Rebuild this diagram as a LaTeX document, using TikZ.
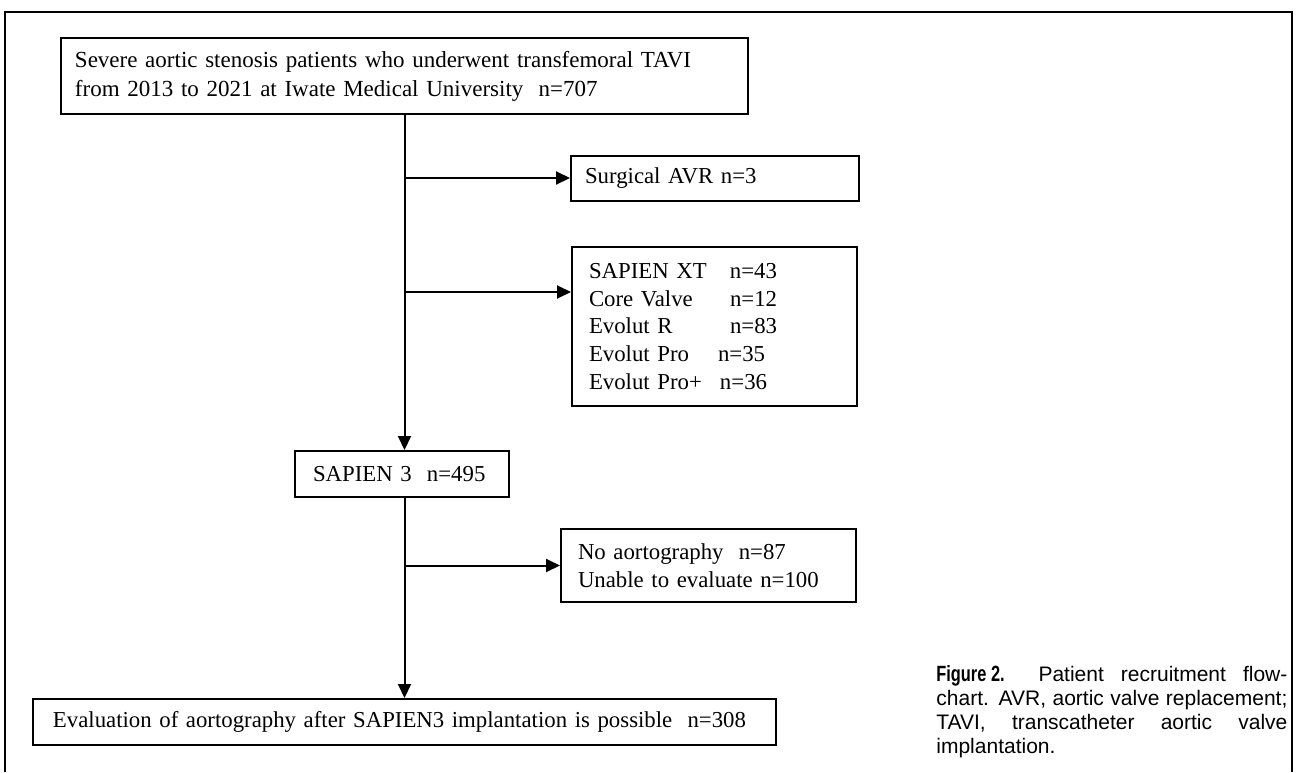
\documentclass[tikz,border=0pt]{standalone}
\usepackage{graphicx}
\usepackage{fontspec}
\setmainfont{Liberation Serif}
\newfontfamily\capfont{Liberation Sans}
\usetikzlibrary{arrows.meta}

\tikzset{
  flowbox/.style={draw, line width=1pt, align=left, inner ysep=0pt,
    font=\fontsize{11.4}{13.85}\selectfont},
  link/.style={line width=1pt, -{Triangle[length=7pt,width=6.5pt]}},
}

\begin{document}
\begin{tikzpicture}[x=0.5pt, y=-0.5pt]
    \useasboundingbox (0,0) rectangle (1297,772);
    % outer frame, open at the bottom
    \draw[line width=1pt] (5,772) -- (5,12) -- (1292,12) -- (1292,772);

    \node[flowbox, font=\fontsize{11.5}{14.5}\selectfont, inner xsep=7pt,
          text width=329.5pt, minimum height=38pt] (cohort) at (404.5,76)
      {Severe aortic stenosis patients who underwent transfemoral TAVI\\
       from 2013 to 2021 at Iwate Medical University\ \ n=707};
    \node[flowbox, inner xsep=7pt, text width=130pt, minimum height=22.5pt]
      (surgical) at (715,178) {Surgical AVR n=3};
    \node[flowbox, inner xsep=8.5pt, text width=125.5pt, minimum height=79.5pt]
      (devices) at (714.5,326.5)
      {\makebox[70.5pt][l]{SAPIEN XT}n=43\\
       \makebox[70.5pt][l]{Core Valve}n=12\\
       \makebox[70.5pt][l]{Evolut R}n=83\\
       \makebox[64.5pt][l]{Evolut Pro}n=35\\
       \makebox[65.5pt][l]{Evolut Pro+}n=36};
    \node[flowbox, inner xsep=9pt, text width=89pt, minimum height=23pt]
      (sapien) at (402,474) {SAPIEN 3\ \ n=495};
    \node[flowbox, inner xsep=8.5pt, text width=130.5pt, minimum height=36.5pt]
      (noaort) at (708.5,565.5) {No aortography\ \ n=87\\Unable to evaluate n=100};
    \node[flowbox, inner xsep=10pt, text width=351.5pt, minimum height=23pt]
      (final) at (404.5,722)
      {Evaluation of aortography after SAPIEN3 implantation is possible\ \ n=308};

    % caption
    \node[anchor=north west, inner sep=0pt, text width=175.5pt, align=justify,
          font=\capfont\fontsize{10.5}{12}\selectfont] (caption) at (936,665)
      {\scalebox{0.78}[1.05]{\bfseries Figure 2.}\hspace{0.8em} Patient recruitment flow-\linebreak
       chart. AVR, aortic valve replacement;\linebreak
       TAVI, transcatheter aortic valve\linebreak
       implantation.};

    \coordinate (split1) at (cohort.south |- surgical.west);
    \coordinate (split2) at (404.5,292);
    \coordinate (split3) at (cohort.south |- noaort.west);

    \draw[link] (cohort.south) -- (cohort.south |- sapien.north);
    \draw[link] (sapien.south -| final.north) -- (final.north);
    \foreach \s/\t in {split1/surgical, split2/devices, split3/noaort}
      \draw[link] (\s) -- (\s -| \t.west);
\end{tikzpicture}
\end{document}
